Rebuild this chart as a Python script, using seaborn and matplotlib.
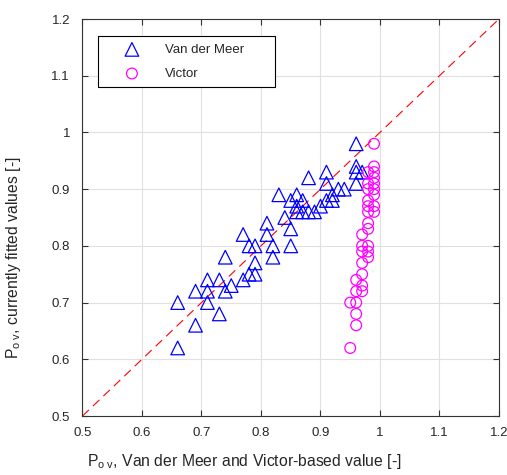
import matplotlib
matplotlib.use("Agg")
import matplotlib.pyplot as plt
from matplotlib.patches import Rectangle
import pandas as pd
import seaborn as sns

# Van der Meer based estimates (x) vs currently fitted values (y)
vdm_x = [0.66, 0.69, 0.66, 0.73, 0.71, 0.69, 0.71, 0.71, 0.73, 0.74,
         0.75, 0.74, 0.77, 0.78, 0.79, 0.79, 0.77, 0.78, 0.79, 0.81,
         0.81, 0.82, 0.82, 0.83, 0.85, 0.86, 0.87, 0.88, 0.91, 0.91,
         0.93, 0.94, 0.96, 0.96, 0.96, 0.97, 0.96, 0.86, 0.87, 0.86,
         0.88, 0.89, 0.90, 0.91, 0.92, 0.92, 0.84, 0.85, 0.85]
vdm_y = [0.62, 0.66, 0.70, 0.68, 0.70, 0.72, 0.72, 0.74, 0.74, 0.72,
         0.73, 0.78, 0.74, 0.75, 0.75, 0.77, 0.82, 0.80, 0.80, 0.82,
         0.84, 0.80, 0.78, 0.89, 0.88, 0.89, 0.88, 0.92, 0.93, 0.91,
         0.90, 0.90, 0.98, 0.94, 0.93, 0.93, 0.91, 0.87, 0.86, 0.86,
         0.86, 0.86, 0.87, 0.88, 0.88, 0.89, 0.85, 0.83, 0.80]

# Victor based estimates (x) vs currently fitted values (y)
victor_x = [0.99, 0.99, 0.99, 0.99, 0.99, 0.99, 0.99, 0.99, 0.99,
            0.98, 0.98, 0.98, 0.98, 0.98, 0.98, 0.98, 0.98, 0.98, 0.98, 0.98,
            0.97, 0.97, 0.97, 0.97, 0.97, 0.97, 0.97,
            0.96, 0.96, 0.96, 0.96, 0.96,
            0.95, 0.95]
victor_y = [0.98, 0.94, 0.93, 0.92, 0.91, 0.90, 0.89, 0.87, 0.86,
            0.93, 0.91, 0.90, 0.88, 0.87, 0.86, 0.84, 0.83, 0.80, 0.79, 0.78,
            0.82, 0.80, 0.79, 0.77, 0.75, 0.73, 0.72,
            0.74, 0.72, 0.70, 0.68, 0.66,
            0.70, 0.62]

ticks = [0.5, 0.6, 0.7, 0.8, 0.9, 1.0, 1.1, 1.2]
tick_labels = ["0.5", "0.6", "0.7", "0.8", "0.9", "1", "1.1", "1.2"]

sns.set_theme(style="white")
plt.rcParams["font.family"] = ["Liberation Sans", "DejaVu Sans"]
plt.rcParams["mathtext.fontset"] = "custom"
plt.rcParams["mathtext.rm"] = "Liberation Sans"
plt.rcParams["mathtext.it"] = "Liberation Sans"

df = pd.concat([
    pd.DataFrame({"x": vdm_x, "y": vdm_y, "series": "Van der Meer"}),
    pd.DataFrame({"x": victor_x, "y": victor_y, "series": "Victor"}),
], ignore_index=True)

fig = plt.figure(figsize=(5.07, 4.75), dpi=100)
ax = fig.add_axes([0.1627, 0.1242, 0.8215, 0.8358])

# 1:1 reference line
ax.plot([0.5, 1.2], [0.5, 1.2], color="red", lw=0.8, ls=(0, (8, 5)), zorder=1)

sns.scatterplot(data=df[df.series == "Van der Meer"], x="x", y="y", ax=ax,
                marker="^", s=96, facecolors="none", edgecolor="blue",
                linewidth=0.9, label="Van der Meer", zorder=3)
sns.scatterplot(data=df[df.series == "Victor"], x="x", y="y", ax=ax,
                marker="o", s=60, facecolors="none", edgecolor="magenta",
                linewidth=0.9, label="Victor", zorder=3)

ax.set_xlim(0.5, 1.2)
ax.set_ylim(0.5, 1.2)
ax.set_xticks(ticks)
ax.set_xticklabels(tick_labels)
ax.set_yticks(ticks)
ax.set_yticklabels(tick_labels)
ax.grid(True, color="#e0e0e0", lw=0.8)
ax.set_axisbelow(True)
for sp in ax.spines.values():
    sp.set_color("#333333")
    sp.set_linewidth(0.8)
ax.tick_params(direction="in", length=4, width=0.8, colors="#333333",
               labelcolor="#262626", labelsize=9.5, top=True, right=True,
               left=True, bottom=True)
ax.tick_params(axis="x", pad=8)
ax.tick_params(axis="y", pad=9)

ax.set_xlabel(r"P$_{\mathrm{o\ v}}$, Van der Meer and Victor-based value [-]",
              fontsize=11.3, color="#262626")
ax.set_ylabel(r"P$_{\mathrm{o\ v}}$, currently fitted values [-]",
              fontsize=11.3, color="#262626")
ax.xaxis.set_label_coords(0.388, -0.09)
ax.yaxis.set_label_coords(-0.143, 0.40)

# legend frame drawn separately so its box can be sized freely
ax.add_patch(Rectangle((0.0372, 0.8287), 0.425, 0.1285, transform=ax.transAxes,
                       facecolor="white", edgecolor="black", lw=0.8, zorder=4))
leg = ax.legend(loc="upper left", bbox_to_anchor=(0.087, 0.938), frameon=False,
                fontsize=9.5, borderpad=0, handlelength=2.0,
                handletextpad=1.5, labelspacing=0.9, borderaxespad=0)
leg.set_zorder(5)

fig.savefig("out.png", dpi=100)
